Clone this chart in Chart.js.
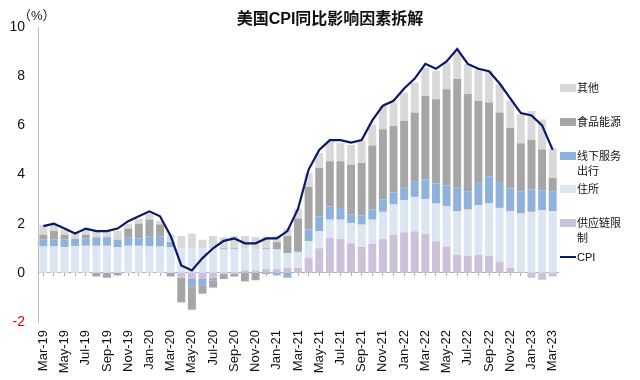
<!DOCTYPE html>
<html>
<head>
<meta charset="utf-8">
<script src="https://cdn.jsdelivr.net/npm/chart.js@4.4.1/dist/chart.umd.min.js"></script>
<style>
  html, body { margin: 0; padding: 0; background: #fff; }
  #wrap { position: relative; width: 640px; height: 380px; font-family: "Liberation Sans", "Noto Sans CJK SC", sans-serif; }
  #title { position: absolute; left: 0; width: 660px; top: 5px; text-align: center; font-size: 16px; font-weight: bold; color: #111; }
  #unit { position: absolute; left: 18px; top: 5px; font-size: 13px; color: #222; }
  #legend { position: absolute; left: 560px; top: 81px; margin: 0; padding: 0; list-style: none; }
  #legend li { position: relative; height: 33.8px; }
  #legend .box { position: absolute; left: 0; top: 3px; width: 16px; height: 8px; }
  #legend .txt { position: absolute; left: 17px; top: 0; width: 46px; font-size: 11px; line-height: 15px; color: #111; }
</style>
</head>
<body>
<div id="wrap">
  <canvas id="cpi-chart" width="640" height="380"></canvas>
  <div id="title">美国CPI同比影响因素拆解</div>
  <div id="unit">（%）</div>
  <ul id="legend"></ul>
</div>
<script>
const months = [
  'Mar-19', 'Apr-19', 'May-19', 'Jun-19', 'Jul-19', 'Aug-19', 'Sep-19', 'Oct-19', 'Nov-19', 'Dec-19',
  'Jan-20', 'Feb-20', 'Mar-20', 'Apr-20', 'May-20', 'Jun-20', 'Jul-20', 'Aug-20', 'Sep-20', 'Oct-20', 'Nov-20', 'Dec-20',
  'Jan-21', 'Feb-21', 'Mar-21', 'Apr-21', 'May-21', 'Jun-21', 'Jul-21', 'Aug-21', 'Sep-21', 'Oct-21', 'Nov-21', 'Dec-21',
  'Jan-22', 'Feb-22', 'Mar-22', 'Apr-22', 'May-22', 'Jun-22', 'Jul-22', 'Aug-22', 'Sep-22', 'Oct-22', 'Nov-22', 'Dec-22',
  'Jan-23', 'Feb-23', 'Mar-23',
];

// 供应链限制
const supplyChain = [
  0, 0, 0, 0, 0, 0, 0, 0, 0, 0,
  0, 0, 0, -0.2, -0.25, -0.25, -0.2, -0.05, -0.05, 0.1, 0.1, 0.15,
  0.15, 0.2, 0.2, 0.6, 1.0, 1.41, 1.37, 1.2, 1.05, 1.18, 1.37, 1.55,
  1.65, 1.69, 1.59, 1.28, 1.07, 0.73, 0.69, 0.73, 0.69, 0.46, 0.2, 0.02,
  -0.2, -0.28, -0.15,
];

// 住所
const shelter = [
  1.07, 1.07, 1.05, 1.08, 1.1, 1.1, 1.1, 1.05, 1.1, 1.1,
  1.07, 1.07, 1.05, 1.0, 1.0, 1.0, 1.0, 0.95, 0.95, 0.9, 0.85, 0.8,
  0.8, 0.6, 0.63, 0.68, 0.69, 0.75, 0.79, 0.83, 0.91, 0.98, 1.11, 1.23,
  1.3, 1.4, 1.41, 1.54, 1.64, 1.77, 1.88, 2.02, 2.15, 2.18, 2.3, 2.39,
  2.48, 2.54, 2.5,
];

// 线下服务出行
const services = [
  0.28, 0.28, 0.3, 0.3, 0.3, 0.35, 0.35, 0.3, 0.35, 0.3,
  0.4, 0.4, 0.2, 0, -0.3, -0.25, -0.1, 0.05, 0.05, 0, 0, 0.05,
  -0.1, -0.2, 0.05, 0.48, 0.61, 0.54, 0.48, 0.34, 0.37, 0.41, 0.5, 0.5,
  0.51, 0.64, 0.8, 0.81, 0.85, 0.96, 0.75, 0.91, 1.09, 1.02, 0.93, 0.91,
  0.91, 0.82, 0.82,
];

// 食品能源
const foodEnergy = [
  0.2, 0.35, 0.2, 0.0, 0.15, -0.15, -0.2, -0.1, 0.35, 0.6,
  0.7, 0.5, -0.15, -1.0, -0.95, -0.35, -0.3, -0.2, -0.1, -0.35, -0.3, -0.05,
  0.3, 0.7, 1.33, 1.74, 1.97, 1.84, 1.9, 2.03, 2.15, 2.61, 2.86, 2.69,
  2.72, 2.79, 3.4, 3.43, 3.91, 4.42, 3.95, 3.33, 3.0, 2.86, 2.47, 1.95,
  2.01, 1.66, 0.54,
];

// 其他
const others = [
  0.4, 0.25, 0.2, 0.2, 0.2, 0.3, 0.3, 0.35, 0.2, 0.2,
  0.25, 0.15, 0.3, 0.5, 0.6, 0.35, 0.5, 0.45, 0.5, 0.5, 0.5, 0.45,
  0.25, 0.3, 0.4, 0.55, 0.6, 0.8, 0.75, 0.8, 0.88, 0.86, 0.95, 0.96,
  1.15, 1.22, 1.15, 1.16, 1.09, 1.09, 1.22, 1.3, 1.29, 1.15, 1.09, 1.18,
  1.19, 1.22, 1.19,
];

// CPI 同比
const cpi = [
  1.9, 2.0, 1.8, 1.6, 1.8, 1.7, 1.7, 1.8, 2.1, 2.3,
  2.5, 2.3, 1.5, 0.3, 0.1, 0.6, 1.0, 1.3, 1.4, 1.2, 1.2, 1.4,
  1.4, 1.7, 2.6, 4.2, 5.0, 5.4, 5.4, 5.3, 5.4, 6.2, 6.8, 7.0,
  7.5, 7.9, 8.5, 8.3, 8.6, 9.1, 8.5, 8.3, 8.2, 7.7, 7.1, 6.5,
  6.4, 6.0, 5.0,
];

const yTicks = [-2, 0, 2, 4, 6, 8, 10];

const colors = {
  supply: '#ccc1da',
  shelter: '#dce6f2',
  services: '#8fb2dc',
  foodEnergy: '#a6a6a6',
  others: '#d9d9d9',
  cpi: '#0a1966',
};

const bar = (label, data, color) => ({
  type: 'bar',
  label,
  data,
  backgroundColor: color,
  barPercentage: 0.75,
  categoryPercentage: 1,
  order: 1,
});

const ctx = document.getElementById('cpi-chart');

new Chart(ctx, {
  data: {
    labels: months,
    datasets: [
      bar('供应链限制', supplyChain, colors.supply),
      bar('住所', shelter, colors.shelter),
      bar('线下服务出行', services, colors.services),
      bar('食品能源', foodEnergy, colors.foodEnergy),
      bar('其他', others, colors.others),
      {
        type: 'line',
        label: 'CPI',
        data: cpi,
        borderColor: colors.cpi,
        borderWidth: 2.2,
        pointRadius: 0,
        tension: 0,
        order: 0,
      },
    ],
  },
  options: {
    responsive: false,
    animation: false,
    layout: {
      padding: { top: 27, right: 82, bottom: 6, left: 8 },
    },
    scales: {
      x: {
        stacked: true,
        offset: true,
        grid: { display: false, drawTicks: false },
        border: { display: false },
        ticks: {
          autoSkip: false,
          minRotation: 90,
          maxRotation: 90,
          padding: 8,
          color: '#111',
          font: { family: '"Liberation Sans", Arial, sans-serif', size: 13 },
          callback: (value, index) => (index % 2 === 0 ? months[index] : ''),
        },
        afterFit: (scale) => { scale.height = 52; },
      },
      // axis line sitting on the zero value
      x2: {
        type: 'category',
        labels: months,
        position: { y: 0 },
        offset: true,
        grid: { display: true, drawOnChartArea: false, tickLength: 3, color: '#a9abc2' },
        border: { display: true, color: '#a9abc2', width: 1 },
        ticks: { display: false },
      },
      y: {
        stacked: true,
        min: -2,
        max: 10,
        afterBuildTicks: (scale) => { scale.ticks = yTicks.map((v) => ({ value: v })); },
        grid: { display: false, drawTicks: false },
        border: { display: true, color: '#bfbfbf' },
        ticks: {
          padding: 13,
          color: (c) => (c.tick.value === -2 ? '#e00000' : '#111'),
          font: { family: '"Liberation Sans", Arial, sans-serif', size: 14 },
        },
        afterFit: (scale) => { scale.width = 30; },
      },
    },
    plugins: {
      legend: { display: false },
      tooltip: { enabled: false },
      htmlLegend: { containerID: 'legend' },
    },
  },
  plugins: [{
    id: 'htmlLegend',
    afterUpdate(c, args, options) {
      const ul = document.getElementById(options.containerID);
      if (!ul) return;
      while (ul.firstChild) ul.firstChild.remove();
      // legend reads top-down in reverse stack order, line last
      const order = [4, 3, 2, 1, 0, 5];
      order.forEach((i) => {
        const ds = c.data.datasets[i];
        const li = document.createElement('li');
        const box = document.createElement('span');
        box.className = 'box';
        if (ds.type === 'line') {
          box.style.height = '2px';
          box.style.top = '6px';
          box.style.background = ds.borderColor;
        } else {
          box.style.background = ds.backgroundColor;
        }
        const txt = document.createElement('span');
        txt.className = 'txt';
        txt.textContent = ds.label;
        li.appendChild(box);
        li.appendChild(txt);
        ul.appendChild(li);
      });
    },
  }],
});
</script>
</body>
</html>
